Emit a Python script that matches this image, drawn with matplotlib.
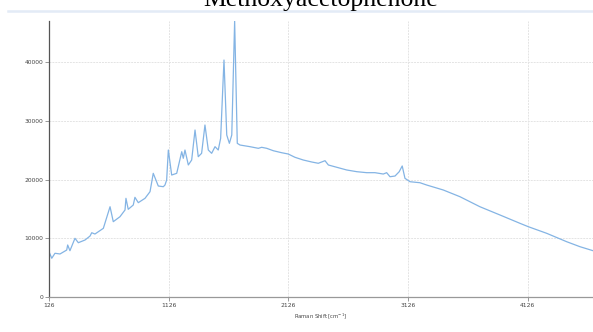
import numpy as np
import matplotlib as mpl
mpl.use('Agg')
import matplotlib.pyplot as plt
from matplotlib.lines import Line2D


# spectrum (Raman shift in cm^-1, counts)
shift = [126, 149, 176, 218, 274, 282, 301, 343, 371, 427, 469, 483, 510,
         580, 636, 663, 719, 761, 769, 788, 830, 844, 872, 928, 970, 997,
         1039, 1081, 1095, 1109, 1123, 1151, 1193, 1235, 1248, 1262, 1290,
         1318, 1346, 1373, 1401, 1429, 1457, 1485, 1513, 1540, 1560, 1588,
         1611, 1633, 1653, 1677, 1699, 1722, 1805, 1875, 1903, 1945, 2000,
         2070, 2125, 2181, 2250, 2321, 2376, 2432, 2460, 2530, 2613, 2697,
         2780, 2849, 2919, 2947, 2975, 3017, 3052, 3077, 3100, 3142, 3225,
         3281, 3420, 3559, 3726, 3894, 4061, 4130, 4284, 4451, 4562, 4671]
counts = [7720, 6600, 7450, 7330, 8000, 8860, 7890, 10000, 9250, 9710,
          10390, 10950, 10730, 11700, 15380, 12830, 13680, 14820, 16810,
          14940, 15670, 16980, 16070, 16810, 17940, 21070, 18910, 18790,
          19080, 19930, 25040, 20780, 21070, 24750, 23630, 25040, 22490,
          23340, 28450, 23900, 24480, 29300, 25040, 24480, 25610, 25040,
          27030, 40370, 27600, 26180, 27600, 47020, 26180, 25890, 25610,
          25330, 25500, 25330, 24920, 24580, 24360, 23800, 23340, 23000,
          22780, 23220, 22490, 22100, 21640, 21350, 21180, 21180, 20950,
          21180, 20490, 20610, 21350, 22320, 20220, 19640, 19470, 19080,
          18230, 17090, 15380, 13970, 12550, 11980, 10850, 9420, 8570, 7890]

x_ticks = [126, 1126, 2126, 3126, 4126]
y_ticks = [0, 10000, 20000, 30000, 40000]

W, H = 593, 332
fig = plt.figure(figsize=(W / 100, H / 100), dpi=100)
ax = fig.add_axes([49 / W, 1 - 297 / H, 1 - 49 / W, 276 / H])

ax.plot(shift, counts, color='#84b4e4', linewidth=0.9)

ax.set_xlim(126, 4671)
ax.set_ylim(0, 47020)
ax.set_xticks(x_ticks)
ax.set_yticks(y_ticks)
ax.grid(True, color='#e4e4e4', linestyle=(0, (2, 1)), linewidth=0.7)
ax.set_axisbelow(True)

for side in ['top', 'right']:
    ax.spines[side].set_visible(False)
ax.spines['left'].set_color('#555555')
ax.spines['left'].set_linewidth(0.9)
ax.spines['bottom'].set_color('#999999')
ax.spines['bottom'].set_linewidth(0.9)
ax.tick_params(axis='both', length=3, width=0.6, color='#888888',
               labelsize=4.3, labelcolor='#444444', pad=1)
ax.set_xlabel('Raman Shift [cm$^{-1}$]', fontsize=3.8, color='#444444',
              labelpad=3)

# title, cut off at the top edge as in the source, with a light rule under it
fig.text(321 / W, 1 - 6 / H, 'Methoxyacetophenone', ha='center',
         va='baseline', fontsize=18.5, family='Liberation Serif',
         color='black')
fig.add_artist(Line2D([8 / W, 1], [1 - 11 / H, 1 - 11 / H],
                      transform=fig.transFigure, color='#e3ebf6',
                      linewidth=1.8))

fig.savefig('out.png', dpi=100)
